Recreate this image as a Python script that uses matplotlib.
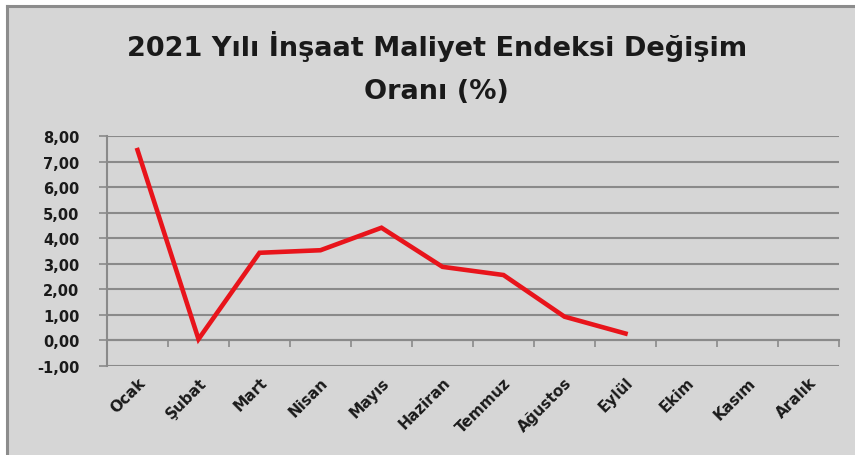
import matplotlib
matplotlib.use("Agg")
import matplotlib.pyplot as plt
from matplotlib.patches import Rectangle
from matplotlib.lines import Line2D

months = ["Ocak", "Şubat", "Mart", "Nisan", "Mayıs", "Haziran", "Temmuz",
          "Ağustos", "Eylül", "Ekim", "Kasım", "Aralık"]
values = [7.45, 0.05, 3.43, 3.53, 4.41, 2.88, 2.56, 0.93, 0.27]
yticks = [-1, 0, 1, 2, 3, 4, 5, 6, 7, 8]
ytick_labels = ["-1,00", "0,00", "1,00", "2,00", "3,00", "4,00", "5,00", "6,00", "7,00", "8,00"]
title_line1 = "2021 Yılı İnşaat Maliyet Endeksi Değişim"
title_line2 = "Oranı (%)"

W, H = 855, 456
bg = "#d6d6d6"
grid_c = "#8a8a8a"

fig = plt.figure(figsize=(W / 100, H / 100), dpi=100)
fig.patch.set_facecolor("white")
fig.patches.append(Rectangle((7 / W, 0), 1, 1 - 7 / H, transform=fig.transFigure,
                             facecolor=bg, edgecolor="none", zorder=-10))
fig.lines.append(Line2D([7 / W, 7 / W], [0, 1 - 7 / H], transform=fig.transFigure,
                        color="#8c8c8c", lw=2.2, zorder=-5))
fig.lines.append(Line2D([7 / W, 1], [1 - 7 / H, 1 - 7 / H], transform=fig.transFigure,
                        color="#8c8c8c", lw=2.2, zorder=-5))

left, right, top, bottom = 107, 839, 137, 367
ax = fig.add_axes([left / W, 1 - bottom / H, (right - left) / W, (bottom - top) / H])
ax.set_facecolor("none")

x = list(range(len(values)))
ax.plot(x, values, color="#e8141b", lw=3.3, solid_joinstyle="miter", zorder=3)

ax.set_xlim(-0.5, len(months) - 0.5)
ax.set_ylim(-1, 8)
ax.set_yticks(yticks)
ax.set_yticklabels(ytick_labels, fontsize=10.5, fontweight="bold", color="#1a1a1a")
ax.yaxis.grid(True, color=grid_c, lw=1.5)
ax.set_axisbelow(True)
ax.tick_params(axis="y", length=6, width=1.2, color=grid_c, pad=14)

ax.set_xticks(range(len(months)))
ax.set_xticklabels(months, rotation=45, ha="right", va="top", rotation_mode="anchor",
                   fontsize=11, fontweight="bold", color="#1a1a1a")
ax.tick_params(axis="x", length=0, pad=6)

for s in ["top", "right", "bottom"]:
    ax.spines[s].set_visible(False)
ax.spines["left"].set_color(grid_c)
ax.spines["left"].set_linewidth(1.5)

sec = ax.secondary_xaxis(1 / 9)
sec.set_xticks([i - 0.5 for i in range(len(months) + 1)])
sec.set_xticklabels([])
sec.tick_params(length=5, width=1.2, color=grid_c, direction="out")
sec.spines["bottom"].set_color(grid_c)
sec.spines["bottom"].set_linewidth(1.5)

fig.text(0.511, 1 - 47 / H, title_line1, ha="center", va="center", fontsize=19.5,
         fontweight="bold", color="#1a1a1a")
fig.text(0.511, 1 - 92 / H, title_line2, ha="center", va="center", fontsize=19.5,
         fontweight="bold", color="#1a1a1a")

fig.savefig("out.png", dpi=100, facecolor=fig.get_facecolor())
